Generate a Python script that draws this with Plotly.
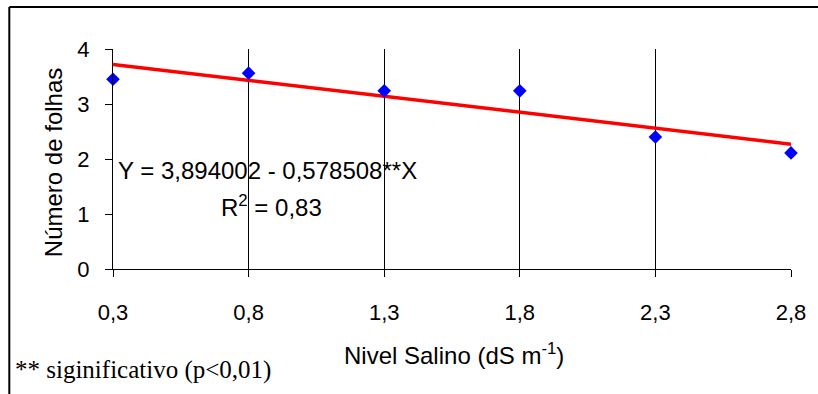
import plotly.graph_objects as go

# Data
salinity = [0.3, 0.8, 1.3, 1.8, 2.3, 2.8]
leaves = [3.45, 3.56, 3.24, 3.24, 2.40, 2.11]
trend_x = [0.3, 2.8]
trend_y = [3.72, 2.27]
x_ticks = [0.3, 0.8, 1.3, 1.8, 2.3, 2.8]
y_ticks = [0, 1, 2, 3, 4]

equation_text = "Y = 3,894002 - 0,578508**X"
r2_text = "R<sup>2</sup> = 0,83"
x_title = "Nivel Salino (dS m<sup>-1</sup>)"
y_title = "Número de folhas"
footnote = "** siginificativo (p&lt;0,01)"

W, H = 818, 394
L, R, T, B = 113, 25, 49, 125
PW, PH = W - L - R, H - T - B


def px(xp):
    return (xp - L) / PW


def py(yp):
    return (H - B - yp) / PH


SANS = "Liberation Sans, Arial, sans-serif"
SERIF = "Liberation Serif, Times New Roman, serif"

fig = go.Figure()
fig.add_trace(go.Scatter(
    x=trend_x, y=trend_y, mode="lines",
    line=dict(color="#FF0000", width=3.5),
    cliponaxis=False, showlegend=False, hoverinfo="skip",
))
fig.add_trace(go.Scatter(
    x=salinity, y=leaves, mode="markers",
    marker=dict(symbol="diamond", size=10.5, color="#0000FF", line=dict(width=0)),
    cliponaxis=False, showlegend=False,
))

fig.update_layout(
    width=W, height=H,
    margin=dict(l=L, r=R, t=T, b=B, pad=0),
    paper_bgcolor="white", plot_bgcolor="white",
    separators=",.",
    font=dict(family=SANS, size=22, color="black"),
    showlegend=False,
)
fig.update_xaxes(
    range=[0.3, 2.8], tickvals=x_ticks, tickformat=".1f",
    showgrid=True, gridcolor="black", gridwidth=1,
    showline=True, linecolor="black", linewidth=1,
    ticks="outside", ticklen=7, tickcolor="black", tickwidth=1,
    ticklabelstandoff=17, zeroline=False,
    tickfont=dict(family=SANS, size=22, color="black"),
)
fig.update_yaxes(
    range=[0, 4], tickvals=y_ticks,
    showgrid=False, zeroline=False,
    showline=True, linecolor="black", linewidth=1,
    ticks="outside", ticklen=7, tickcolor="black", tickwidth=1,
    ticklabelstandoff=11,
    tickfont=dict(family=SANS, size=22, color="black"),
)

ann = [
    dict(text=equation_text, x=px(116), y=py(170), xanchor="left", yanchor="middle",
         font=dict(family=SANS, size=24, color="black")),
    dict(text=r2_text, x=px(219), y=py(206), xanchor="left", yanchor="middle",
         font=dict(family=SANS, size=24, color="black")),
    dict(text=x_title, x=px(455), y=py(354), xanchor="center", yanchor="middle",
         font=dict(family=SANS, size=24, color="black")),
    dict(text=y_title, x=px(53), y=py(163), xanchor="center", yanchor="middle",
         textangle=-90, font=dict(family=SANS, size=24, color="black")),
    dict(text=footnote, x=px(13), y=py(370), xanchor="left", yanchor="middle",
         font=dict(family=SERIF, size=25, color="black")),
]
for a in ann:
    a.update(xref="paper", yref="paper", showarrow=False)
fig.update_layout(annotations=ann)

# Outer frame (top and left edges visible; rest cropped)
fig.add_shape(type="line", xref="paper", yref="paper",
              x0=px(9), x1=px(830), y0=py(7), y1=py(7),
              line=dict(color="black", width=2))
fig.add_shape(type="line", xref="paper", yref="paper",
              x0=px(9), x1=px(9), y0=py(7), y1=py(400),
              line=dict(color="black", width=2))

fig.write_html("out.html")
